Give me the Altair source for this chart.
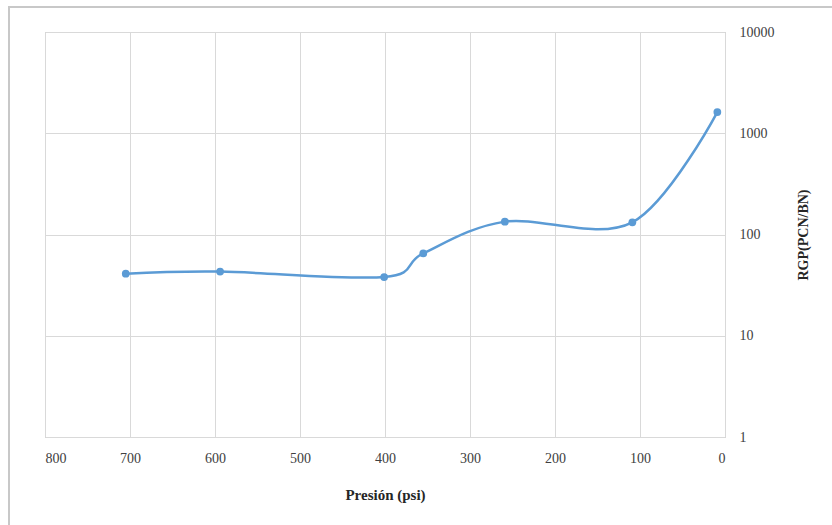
import altair as alt
import pandas as pd

presion = [705, 594, 401, 355, 259, 109, 9]
rgp = [41, 43, 38, 65, 134, 132, 1620]
x_ticks = [0, 100, 200, 300, 400, 500, 600, 700, 800]
y_ticks = [1, 10, 100, 1000, 10000]

df = pd.DataFrame({"Presion": presion, "RGP": rgp})

FONT = "Times New Roman, Liberation Serif, DejaVu Serif, serif"
BLUE = "#5b9bd5"

x_enc = alt.X("Presion:Q",
              scale=alt.Scale(domain=[0, 800], reverse=True, nice=False),
              axis=alt.Axis(values=x_ticks, title="Presión (psi)", grid=True,
                            gridColor="#d9d9d9", domain=False, ticks=False,
                            labelFont=FONT, labelFontSize=14, labelColor="#404040",
                            labelPadding=14, titleFont=FONT, titleFontSize=15,
                            titleFontWeight="bold", titleColor="#262626",
                            titlePadding=22))
y_enc = alt.Y("RGP:Q",
              scale=alt.Scale(type="log", domain=[1, 10000], nice=False),
              axis=alt.Axis(values=y_ticks, orient="right", title="RGP(PCN/BN)",
                            format="d", grid=True, gridColor="#d9d9d9", domain=False,
                            ticks=False, labelFont=FONT, labelFontSize=14,
                            labelColor="#404040", labelPadding=14, titleFont=FONT,
                            titleFontSize=14, titleFontWeight="bold",
                            titleColor="#262626", titlePadding=36, titleAngle=270))

frame = alt.Chart(df).mark_rect(fill="white", stroke="#c8c8c8", strokeWidth=2,
                                 fillOpacity=0).encode(
    x=alt.value(-36), x2=alt.value(820), y=alt.value(-25), y2=alt.value(520))

line = alt.Chart(df).mark_line(interpolate="cardinal", color=BLUE, strokeWidth=2.5).encode(
    x=x_enc, y=y_enc)
pts = alt.Chart(df).mark_circle(color=BLUE, size=60, opacity=1).encode(
    x="Presion:Q", y="RGP:Q")

chart = alt.layer(frame, line, pts).properties(
    width=680, height=405,
    autosize=alt.AutoSizeParams(type="none"),
    padding={"left": 45, "top": 32, "right": 107, "bottom": 88},
    background="white",
).configure_view(stroke="#bfbfbf", strokeWidth=1)

chart.save("out.html", embed_options={"renderer": "svg", "actions": False})
